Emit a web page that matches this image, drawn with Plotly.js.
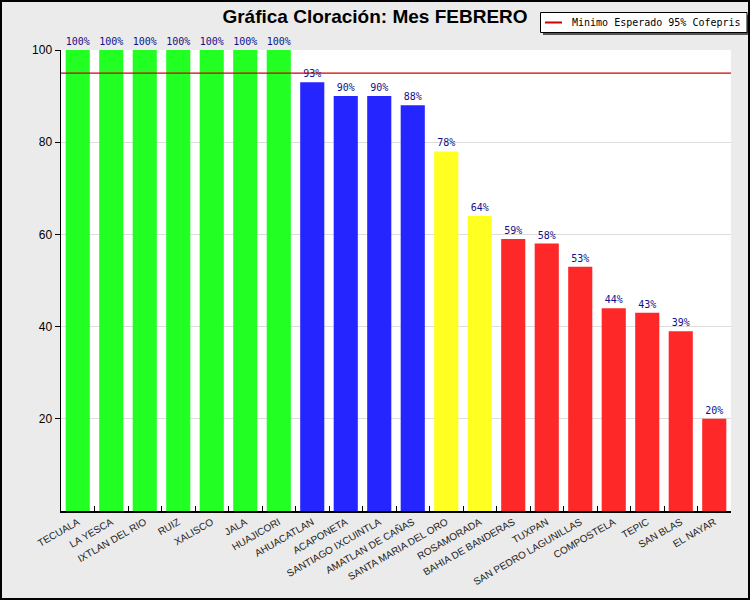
<!DOCTYPE html>
<html>
<head>
<meta charset="utf-8">
<script src="https://cdn.plot.ly/plotly-3.0.1.min.js"></script>
<style>
  html, body { margin: 0; padding: 0; background: #EBEBEB; }
  #chart { width: 750px; height: 600px; }
</style>
</head>
<body>
<div id="chart"></div>
<script>
  // Cloración por municipio, febrero.
  const MUNICIPIOS = [
    "TECUALA", "LA YESCA", "IXTLAN DEL RIO", "RUIZ", "XALISCO", "JALA", "HUAJICORI",
    "AHUACATLAN", "ACAPONETA", "SANTIAGO IXCUINTLA", "AMATLAN DE CAÑAS",
    "SANTA MARIA DEL ORO", "ROSAMORADA", "BAHIA DE BANDERAS", "TUXPAN",
    "SAN PEDRO LAGUNILLAS", "COMPOSTELA", "TEPIC", "SAN BLAS", "EL NAYAR",
  ];
  const PORCENTAJES = [100, 100, 100, 100, 100, 100, 100, 93, 90, 90, 88, 78, 64, 59, 58, 53, 44, 43, 39, 20];
  const MINIMO = 95;
  const MINIMO_LABEL = "Minimo Esperado 95% Cofepris";
  const Y_TICKS = [20, 40, 60, 80, 100];

  // Colour bands (same cut points as the report)
  function barColour(v) {
    if (v >= 95) return "#22FF22";
    if (v >= 85) return "#2525FF";
    if (v >= 60) return "#FFFF22";
    return "#FF2828";
  }

  const MONO = "DejaVu Sans Mono, monospace";
  const SANS = "Liberation Sans, Arial, sans-serif";
  const LINE_RED = "#D00000";

  // Fixed margins; pixel -> paper helpers for the hand-drawn legend box.
  const M = { l: 61, r: 19, t: 50, b: 89 };
  const PW = 750 - M.l - M.r;
  const PH = 600 - M.t - M.b;
  const px = (x) => (x - M.l) / PW;
  const py = (y) => (600 - M.b - y) / PH;

  const bars = {
    type: "bar",
    x: MUNICIPIOS,
    y: PORCENTAJES,
    marker: { color: PORCENTAJES.map(barColour), line: { width: 0 } },
    text: PORCENTAJES.map((v) => `${v}%`),
    textposition: "outside",
    textfont: { family: MONO, size: 10, color: "#10108A" },
    cliponaxis: false,
    hoverinfo: "x+y",
  };

  // Reference line spans full plot width, so it lives on a hidden 0..1 axis.
  const minimo = {
    type: "scatter",
    mode: "lines",
    x: [0, 1],
    y: [MINIMO, MINIMO],
    xaxis: "x2",
    line: { color: LINE_RED, width: 1.3 },
    name: MINIMO_LABEL,
  };

  const layout = {
    width: 750,
    height: 600,
    margin: M,
    paper_bgcolor: "#EBEBEB",
    plot_bgcolor: "white",
    showlegend: false, // legend drawn by hand below so it doesn't push the margins
    title: {
      text: "<b>Gráfica Cloración: Mes FEBRERO</b>",
      font: { family: SANS, size: 19, color: "black" },
      x: 0.5, xref: "container", xanchor: "center",
      y: 0.973, yref: "container", yanchor: "middle",
    },
    xaxis: {
      type: "category",
      tickangle: -30,
      tickfont: { family: SANS, size: 10, color: "#222" },
      ticks: "inside",
      tickson: "boundaries",
      ticklen: 5,
      tickcolor: "black",
      showline: true,
      linecolor: "black",
      linewidth: 1.5,
      showgrid: false,
      automargin: false,
      fixedrange: true,
    },
    xaxis2: {
      overlaying: "x",
      range: [0, 1],
      visible: false,
      fixedrange: true,
    },
    yaxis: {
      range: [0, 100],
      tickvals: Y_TICKS,
      tickfont: { family: SANS, size: 12, color: "black" },
      ticks: "outside",
      ticklen: 5,
      tickcolor: "black",
      showline: true,
      linecolor: "black",
      linewidth: 1.5,
      gridcolor: "#DCDCDC",
      zeroline: false,
      automargin: false,
      fixedrange: true,
    },
    bargap: 0.28,
    shapes: [
      // legend drop shadow
      {
        type: "rect", xref: "paper", yref: "paper",
        x0: px(543), x1: px(750), y0: py(35), y1: py(15),
        fillcolor: "#555", line: { width: 0 },
      },
      // legend box
      {
        type: "rect", xref: "paper", yref: "paper",
        x0: px(540.5), x1: px(747), y0: py(32.5), y1: py(12.5),
        fillcolor: "white", line: { color: "black", width: 1 },
      },
      // legend sample line
      {
        type: "line", xref: "paper", yref: "paper",
        x0: px(545), x1: px(562), y0: py(22.5), y1: py(22.5),
        line: { color: LINE_RED, width: 2 },
      },
      // outer frame
      {
        type: "rect", xref: "paper", yref: "paper", layer: "above",
        x0: px(1), x1: px(749), y0: py(599), y1: py(1),
        line: { color: "black", width: 2 },
      },
    ],
    annotations: [
      {
        text: MINIMO_LABEL,
        xref: "paper", yref: "paper",
        x: px(570), y: py(22.5),
        xanchor: "left", yanchor: "middle",
        showarrow: false,
        font: { family: MONO, size: 10, color: "black" },
      },
    ],
  };

  Plotly.newPlot("chart", [bars, minimo], layout, { displayModeBar: false, staticPlot: true });
</script>
</body>
</html>
